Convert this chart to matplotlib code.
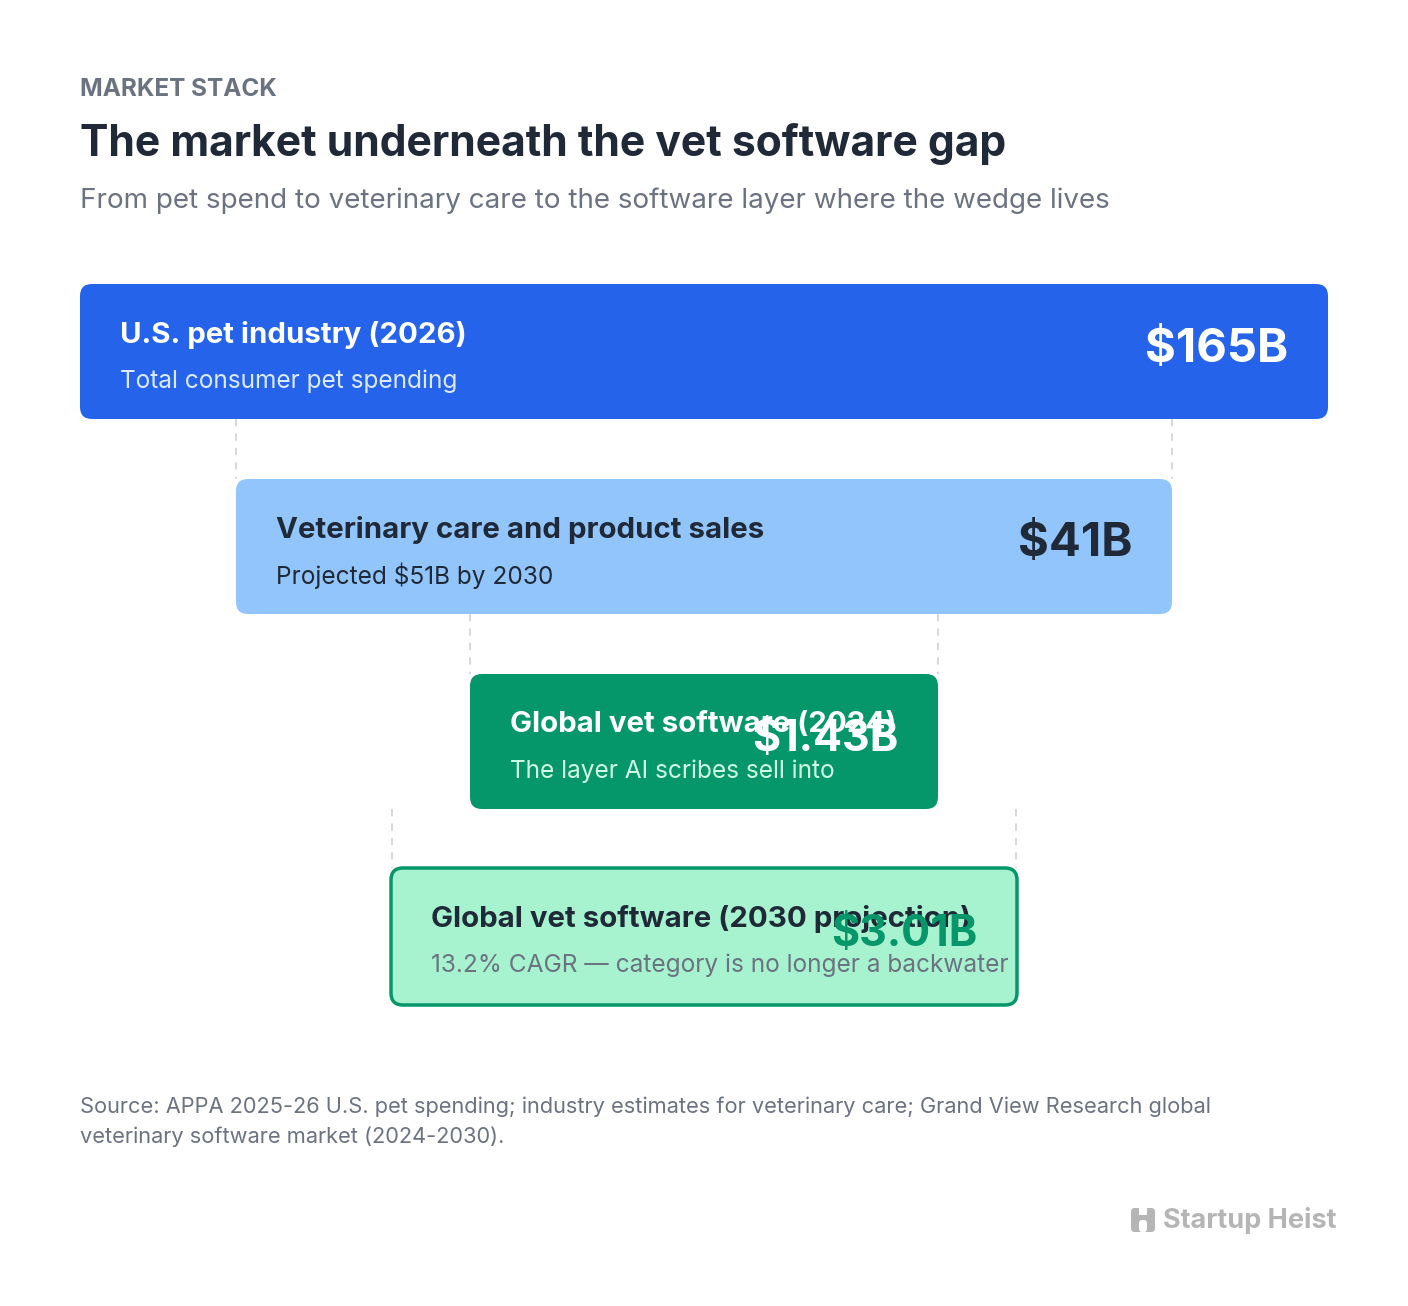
import matplotlib
matplotlib.use("Agg")
import matplotlib.pyplot as plt
from matplotlib.patches import FancyBboxPatch

plt.rcParams['font.family'] = ['Inter', 'DejaVu Sans']

labels = ["U.S. pet industry (2026)", "Veterinary care and product sales",
          "Global vet software (2024)", "Global vet software (2030 projection)"]
sublabels = ["Total consumer pet spending", "Projected $51B by 2030",
             "The layer AI scribes sell into", "13.2% CAGR \u2014 category is no longer a backwater"]
values = ["$165B", "$41B", "$1.43B", "$3.01B"]

# layout (pixels)
boxes = [(80, 284, 1328, 419), (236, 479, 1172, 614), (470, 674, 938, 809), (391, 868, 1017, 1005)]
fills = ["#2563EB", "#93C5FD", "#059669", "#A7F3D0"]
edges = [None, None, None, "#059669"]
tcol = ["white", "#1F2937", "white", "#1F2937"]
scol = ["#DBEAFE", "#1F2937", "#D1FAE5", "#6B7280"]
vcol = ["white", "#1F2937", "white", "#059669"]

fig = plt.figure(figsize=(14.08, 13.06), dpi=100)
ax = fig.add_axes([0, 0, 1, 1])
ax.set_xlim(0, 1408); ax.set_ylim(1306, 0); ax.axis('off')

ax.text(80, 89, "MARKET STACK", fontsize=17.5, fontweight='bold', color="#6B7280", va='center')
ax.text(80, 144, "The market underneath the vet software gap", fontsize=30.7, fontweight='bold', color="#1F2937", va='center')
ax.text(80, 201, "From pet spend to veterinary care to the software layer where the wedge lives", fontsize=20, color="#6B7280", va='center')

for i, (x0, y0, x1, y1) in enumerate(boxes):
    kw = dict(boxstyle="round,pad=0,rounding_size=12", facecolor=fills[i])
    if edges[i]:
        kw.update(edgecolor=edges[i], linewidth=2.5)
    else:
        kw.update(edgecolor='none')
    ax.add_patch(FancyBboxPatch((x0, y0), x1 - x0, y1 - y0, **kw))
    ax.text(x0 + 40, y0 + 51, labels[i], fontsize=21.2, fontweight='bold', color=tcol[i], va='center')
    ax.text(x0 + 40, y0 + 97, sublabels[i], fontsize=17.6, color=scol[i], va='center')
    fs = 34 if i < 2 else 31
    ax.text(x1 - 40, (y0 + y1) / 2 - 2, values[i], fontsize=fs, fontweight='bold', color=vcol[i], va='center', ha='right')

connectors = [(236, 1172, 419, 479), (470, 938, 614, 674), (392, 1016, 809, 868)]
for xa, xb, ya, yb in connectors:
    for xx in (xa, xb):
        ax.plot([xx, xx], [ya, yb], color="#D1D5DB", lw=1.3, ls=(0, (4, 4)))

ax.text(80, 1107, "Source: APPA 2025-26 U.S. pet spending; industry estimates for veterinary care; Grand View Research global",
        fontsize=15.7, color="#6B7280", va='center')
ax.text(80, 1137, "veterinary software market (2024-2030).", fontsize=15.7, color="#6B7280", va='center')

ax.add_patch(FancyBboxPatch((1131, 1208), 24, 24, boxstyle="round,pad=0,rounding_size=4", facecolor="#B5B5B5", edgecolor='none'))
ax.add_patch(FancyBboxPatch((1139, 1220), 8, 12, boxstyle="round,pad=0,rounding_size=3", facecolor="white", edgecolor='none'))
ax.add_patch(plt.Rectangle((1139, 1208), 8, 7, facecolor="white", edgecolor='none'))
ax.text(1163, 1220, "Startup Heist", fontsize=19.5, fontweight='bold', color="#B5B5B5", va='center')

fig.savefig("out.png", dpi=100, facecolor="white")
